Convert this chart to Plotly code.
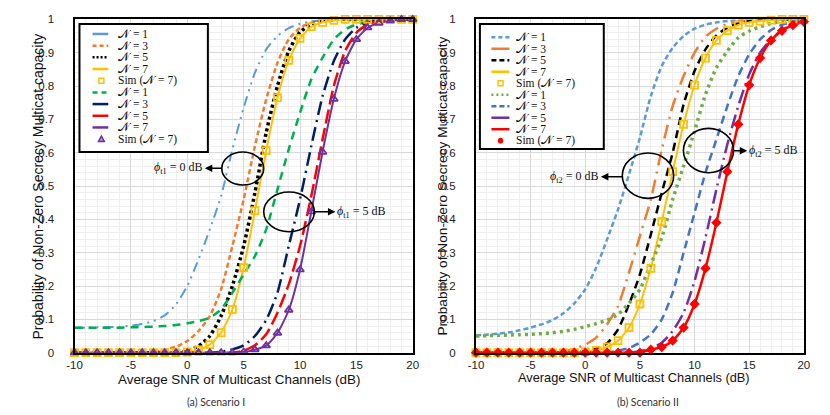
import plotly.graph_objects as go
from plotly.subplots import make_subplots

W, H = 830, 415

# x values (average SNR, dB)
snr = [-10, -9, -8, -7, -6, -5, -4, -3, -2, -1, 0, 1, 2, 3, 4, 5, 6, 7, 8, 9, 10,
       11, 12, 13, 14, 15, 16, 17, 18, 19, 20]

# Scenario I: phi_t1 = 0 dB
s1_n1_p0 = [0.075, 0.075, 0.076, 0.077, 0.078, 0.081, 0.086, 0.095, 0.112, 0.145, 0.2, 0.28, 0.37, 0.47,
            0.61, 0.735, 0.84, 0.91, 0.95, 0.974, 0.987, 0.994, 0.997, 0.999, 1, 1, 1, 1, 1, 1, 1]
s1_n3_p0 = [0, 0, 0, 0, 0, 0, 0, 0.002, 0.009, 0.018, 0.035, 0.065, 0.11, 0.19, 0.32, 0.46, 0.62, 0.76,
            0.87, 0.94, 0.975, 0.99, 0.997, 1, 1, 1, 1, 1, 1, 1, 1]
s1_n5_p0 = [0, 0, 0, 0, 0, 0, 0, 0, 0, 0, 0.005, 0.02, 0.05, 0.11, 0.2, 0.32, 0.48, 0.66, 0.8, 0.905,
            0.962, 0.985, 0.995, 1, 1, 1, 1, 1, 1, 1, 1]
s1_n7_p0 = [0, 0, 0, 0, 0, 0, 0, 0, 0, 0, 0.002, 0.008, 0.024, 0.06, 0.13, 0.255, 0.426, 0.606, 0.765,
            0.877, 0.943, 0.978, 0.991, 0.997, 1, 1, 1, 1, 1, 1, 1]
# Scenario I: phi_t1 = 5 dB
s1_n1_p5 = [0.075, 0.075, 0.075, 0.075, 0.075, 0.076, 0.077, 0.078, 0.08, 0.083, 0.088, 0.095, 0.105,
            0.13, 0.18, 0.235, 0.29, 0.37, 0.49, 0.61, 0.72, 0.82, 0.885, 0.94, 0.97, 0.985, 0.993,
            0.997, 1, 1, 1]
s1_n3_p5 = [0, 0, 0, 0, 0, 0, 0, 0, 0, 0, 0, 0, 0, 0.003, 0.01, 0.022, 0.05, 0.098, 0.18, 0.32, 0.46,
            0.62, 0.77, 0.875, 0.94, 0.975, 0.99, 0.997, 1, 1, 1]
s1_n5_p5 = [0, 0, 0, 0, 0, 0, 0, 0, 0, 0, 0, 0, 0, 0, 0, 0.006, 0.022, 0.055, 0.12, 0.205, 0.32, 0.47,
            0.64, 0.8, 0.905, 0.96, 0.985, 0.995, 1, 1, 1]
s1_n7_p5 = [0, 0, 0, 0, 0, 0, 0, 0, 0, 0, 0, 0, 0, 0, 0, 0.002, 0.009, 0.021, 0.059, 0.128, 0.249,
            0.423, 0.602, 0.761, 0.874, 0.94, 0.975, 0.989, 0.996, 1, 1]

# Scenario II: phi_t2 = 0 dB
s2_n1_p0 = [0.052, 0.054, 0.057, 0.061, 0.067, 0.075, 0.085, 0.098, 0.118, 0.148, 0.19, 0.255, 0.34,
            0.43, 0.535, 0.645, 0.77, 0.86, 0.915, 0.95, 0.972, 0.984, 0.991, 0.995, 0.998, 1, 1, 1,
            1, 1, 1]
s2_n3_p0 = [0, 0, 0, 0, 0, 0, 0, 0.001, 0.004, 0.012, 0.024, 0.045, 0.085, 0.14, 0.24, 0.35, 0.46,
            0.61, 0.74, 0.83, 0.9, 0.948, 0.972, 0.986, 0.994, 0.998, 1, 1, 1, 1, 1]
s2_n5_p0 = [0, 0, 0, 0, 0, 0, 0, 0, 0, 0, 0.004, 0.012, 0.028, 0.07, 0.145, 0.235, 0.355, 0.48, 0.6,
            0.745, 0.845, 0.91, 0.952, 0.975, 0.988, 0.995, 0.998, 1, 1, 1, 1]
s2_n7_p0 = [0, 0, 0, 0, 0, 0, 0, 0, 0, 0, 0.003, 0.007, 0.017, 0.036, 0.075, 0.146, 0.253, 0.393,
            0.543, 0.685, 0.803, 0.884, 0.937, 0.966, 0.983, 0.991, 0.995, 0.998, 1, 1, 1]
# Scenario II: phi_t2 = 5 dB
s2_n1_p5 = [0.05, 0.051, 0.052, 0.053, 0.054, 0.055, 0.057, 0.06, 0.064, 0.07, 0.078, 0.087, 0.098,
            0.115, 0.148, 0.19, 0.265, 0.345, 0.46, 0.56, 0.665, 0.775, 0.855, 0.905, 0.945, 0.965,
            0.978, 0.988, 0.994, 0.997, 1]
s2_n3_p5 = [0, 0, 0, 0, 0, 0, 0, 0, 0, 0, 0, 0, 0, 0.006, 0.014, 0.03, 0.055, 0.1, 0.18, 0.3, 0.42,
            0.54, 0.64, 0.74, 0.83, 0.895, 0.94, 0.968, 0.984, 0.993, 0.997]
s2_n5_p5 = [0, 0, 0, 0, 0, 0, 0, 0, 0, 0, 0, 0, 0, 0, 0, 0.004, 0.012, 0.03, 0.065, 0.12, 0.215,
            0.345, 0.49, 0.625, 0.74, 0.835, 0.9, 0.94, 0.968, 0.984, 0.993]
s2_n7_p5 = [0, 0, 0, 0, 0, 0, 0, 0, 0, 0, 0, 0, 0, 0, 0, 0, 0.009, 0.017, 0.036, 0.075, 0.146, 0.253,
            0.39, 0.543, 0.685, 0.803, 0.884, 0.937, 0.966, 0.983, 0.993]

x_ticks = [-10, -5, 0, 5, 10, 15, 20]
x_ticktext = ["-10", "-5", "0", "5", "10", "15", "20"]

NN = "\U0001D4A9"  # script N
legend_labels = [f"{NN} = 1", f"{NN} = 3", f"{NN} = 5", f"{NN} = 7", f"Sim ({NN} = 7)",
                 f"{NN} = 1", f"{NN} = 3", f"{NN} = 5", f"{NN} = 7", f"Sim ({NN} = 7)"]


# picture pixel -> paper (the photo comes out a touch squashed vertically)
def fx(px):
    return px / W


def fy(py):
    return 1 - ((py - 3.5) / 0.979) / H


fig = make_subplots(rows=1, cols=2)

# (values, color, dash, width) per curve
left_curves = [
    (s1_n1_p0, "#5B9BD5", "10px,5px,2px,5px,2px,5px", 2),
    (s1_n3_p0, "#ED7D31", "5px,3px", 2.5),
    (s1_n5_p0, "#000000", "3px,3px", 3.5),
    (s1_n7_p0, "#FFC000", "solid", 2),
    (s1_n1_p5, "#00B050", "8px,6px", 2.5),
    (s1_n3_p5, "#002060", "14px,5px,2px,5px", 2.5),
    (s1_n5_p5, "#FF0000", "14px,5px", 2.5),
    (s1_n7_p5, "#7030A0", "solid", 2),
]
right_curves = [
    (s2_n1_p0, "#5B9BD5", "5px,3px", 2.5),
    (s2_n3_p0, "#ED7D31", "14px,6px,2px,6px", 2.5),
    (s2_n5_p0, "#000000", "8px,5px", 2.5),
    (s2_n7_p0, "#FFC000", "solid", 2),
    (s2_n1_p5, "#70AD47", "3px,4px", 3.5),
    (s2_n3_p5, "#4472C4", "8px,5px", 2.5),
    (s2_n5_p5, "#7030A0", "14px,5px,2px,5px", 2.5),
    (s2_n7_p5, "#FF0000", "solid", 2.5),
]

for col, curves in ((1, left_curves), (2, right_curves)):
    for vals, color, dash, width in curves:
        fig.add_trace(go.Scatter(x=snr, y=vals, mode="lines",
                                 line=dict(color=color, dash=dash, width=width, shape="spline", smoothing=0.6),
                                 showlegend=False, cliponaxis=False, hoverinfo="skip"), row=1, col=col)

# simulation markers
sims = [
    (1, s1_n7_p0, "square-open", "#FFC000", 7),
    (1, s1_n7_p5, "triangle-up-open", "#7030A0", 7),
    (2, s2_n7_p0, "square-open", "#FFC000", 7),
    (2, s2_n7_p5, "diamond", "#FF0000", 6),
]
for col, vals, sym, color, size in sims:
    fig.add_trace(go.Scatter(x=snr, y=vals, mode="markers",
                             marker=dict(symbol=sym, color=color, size=size, line=dict(color=color, width=1.8)),
                             showlegend=False, cliponaxis=False, hoverinfo="skip"), row=1, col=col)

axis_common = dict(showline=True, mirror=True, linecolor="black", linewidth=2,
                   gridcolor="#d9d9d9", gridwidth=1, zeroline=False, ticks="",
                   tickfont=dict(family="Liberation Sans, Arial", size=11.5, color="#222"))
fig.update_xaxes(range=[-10, 20], tickvals=x_ticks, ticktext=x_ticktext, ticklabelstandoff=1,
                 minor=dict(dtick=1, showgrid=True, gridcolor="#efefef"), **axis_common)
fig.update_yaxes(range=[0, 1], dtick=0.1, ticklabelstandoff=16, domain=[fy(353), fy(17)],
                 minor=dict(dtick=0.02, showgrid=True, gridcolor="#efefef"), **axis_common)
fig.update_layout(xaxis=dict(domain=[fx(67.7), fx(411.7)]), xaxis2=dict(domain=[fx(476), fx(809.5)]))

# axis titles and captions
ytitle = "Probability of Non-Zero Secrecy Multicat capacity"
xtitle = "Average SNR of Multicast Channels (dB)"
for xp, yp, ang, txt, size in ((31, 185, -90, ytitle, 14), (441, 185, -90, ytitle, 13.7),
                               (235, 380, 0, xtitle, 13.4), (637, 378, 0, xtitle, 12.8)):
    fig.add_annotation(x=fx(xp), y=fy(yp), xref="paper", yref="paper", text=txt, textangle=ang,
                       showarrow=False, font=dict(family="Liberation Sans, Arial", size=size, color="#111"),
                       xanchor="center", yanchor="middle")
for xp, txt in ((212, "(a) Scenario I"), (651, "(b) Scenario II")):
    fig.add_annotation(x=fx(xp), y=fy(403), xref="paper", yref="paper", text=txt, showarrow=False,
                       font=dict(family="Lato, Noto Sans", size=10.5, color="#333"),
                       xanchor="center", yanchor="middle")

# legends drawn as boxes
leg_font = dict(family="Liberation Serif, DejaVu Serif", size=11.5, color="#111")
left_leg_styles = [("#5B9BD5", "solid"), ("#ED7D31", "4px,3px"), ("#000000", "2px,2px"), ("#FFC000", "solid"),
                   ("#FFC000", "square"), ("#00B050", "5px,4px"), ("#002060", "solid"), ("#FF0000", "solid"),
                   ("#7030A0", "solid"), ("#7030A0", "triangle")]
right_leg_styles = [("#5B9BD5", "4px,3px"), ("#ED7D31", "solid"), ("#000000", "5px,3px"), ("#FFC000", "solid"),
                    ("#FFC000", "square"), ("#70AD47", "2px,3px"), ("#4472C4", "5px,3px"), ("#7030A0", "solid"),
                    ("#FF0000", "solid"), ("#FF0000", "dot")]
legends = [
    dict(box=(72.7, 21.7, 203.3, 150.7), y0=31.7, dy=11.78, lx=(86, 102), mx=95, tx=110, styles=left_leg_styles),
    dict(box=(480, 21.7, 606, 147.7), y0=35, dy=11.59, lx=(491.7, 510), mx=501, tx=515, styles=right_leg_styles),
]
for lg in legends:
    bx0, by0, bx1, by1 = lg["box"]
    fig.add_shape(type="rect", xref="paper", yref="paper", x0=fx(bx0), x1=fx(bx1), y0=fy(by1), y1=fy(by0),
                  line=dict(color="black", width=2), fillcolor="white")
    for i, (color, st) in enumerate(lg["styles"]):
        yy = lg["y0"] + i * lg["dy"]
        mx = lg["mx"]
        if st == "square":
            fig.add_shape(type="rect", xref="paper", yref="paper", x0=fx(mx - 2.5), x1=fx(mx + 2.5),
                          y0=fy(yy + 2.5), y1=fy(yy - 2.5), line=dict(color=color, width=1.5))
        elif st == "triangle":
            fig.add_shape(type="path", xref="paper", yref="paper",
                          path=f"M {fx(mx - 3)},{fy(yy + 2.5)} L {fx(mx + 3)},{fy(yy + 2.5)} L {fx(mx)},{fy(yy - 3)} Z",
                          line=dict(color=color, width=1.5), fillcolor="#B9A3D3")
        elif st == "dot":
            fig.add_shape(type="circle", xref="paper", yref="paper", x0=fx(mx - 2.5), x1=fx(mx + 2.5),
                          y0=fy(yy + 2.5), y1=fy(yy - 2.5), line=dict(color=color, width=1), fillcolor=color)
        else:
            fig.add_shape(type="line", xref="paper", yref="paper", x0=fx(lg["lx"][0]), x1=fx(lg["lx"][1]),
                          y0=fy(yy), y1=fy(yy), line=dict(color=color, width=2.5, dash=st))
        fig.add_annotation(x=fx(lg["tx"]), y=fy(yy), xref="paper", yref="paper", text=legend_labels[i],
                           showarrow=False, xanchor="left", yanchor="middle", font=leg_font)

# ellipses with labelled arrows (arrowhead sits at the label end)
phi_font = dict(family="Liberation Serif, DejaVu Serif", size=12, color="#111")
marks = [
    # (axis, ellipse x0, x1, y0, y1, arrow end x, label centre x, y, label)
    ("", 3.06, 6.78, 0.503, 0.602, 3.06, -0.75, 0.553, "<i>ϕ</i><sub>t1</sub> = 0 dB"),
    ("", 6.78, 11.27, 0.363, 0.482, 11.27, 15.45, 0.4225, "<i>ϕ</i><sub>t1</sub> = 5 dB"),
    ("2", 3.39, 8.09, 0.463, 0.599, 3.39, -0.95, 0.528, "<i>ϕ</i><sub>t2</sub> = 0 dB"),
    ("2", 8.98, 13.57, 0.54, 0.673, 13.57, 17.2, 0.606, "<i>ϕ</i><sub>t2</sub> = 5 dB"),
]
for ax, x0, x1, y0, y1, end_x, text_x, yy, label in marks:
    fig.add_shape(type="circle", xref="x" + ax, yref="y" + ax, x0=x0, x1=x1, y0=y0, y1=y1,
                  line=dict(color="black", width=1.6))
    fig.add_annotation(x=end_x, y=yy, ax=text_x, ay=yy, xref="x" + ax, yref="y" + ax, axref="x" + ax,
                       ayref="y" + ax, text=label, showarrow=True, arrowside="start", startarrowhead=2,
                       startarrowsize=1, arrowwidth=1.5, arrowcolor="black", font=phi_font,
                       bgcolor="rgba(0,0,0,0)", borderpad=1)

fig.update_layout(width=W, height=H, margin=dict(l=0, r=0, t=0, b=0, pad=0),
                  plot_bgcolor="white", paper_bgcolor="white", showlegend=False)

fig.write_html("out.html", config={"displayModeBar": False},
               post_script="document.body.style.margin='0';document.body.style.overflow='hidden';")
